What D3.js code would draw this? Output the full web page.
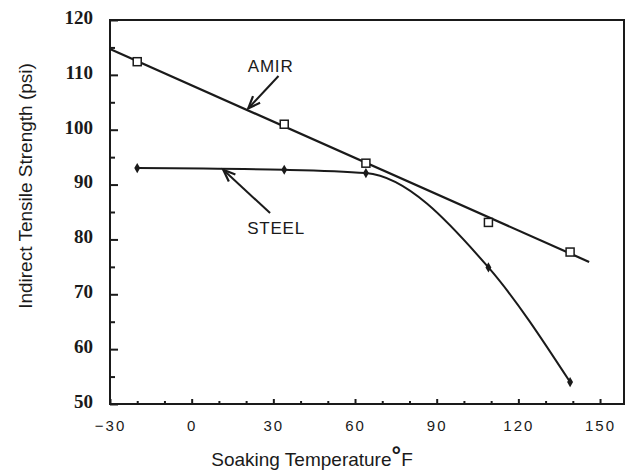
<!DOCTYPE html>
<html><head><meta charset="utf-8">
<script src="https://cdn.jsdelivr.net/npm/d3@7"></script>
<style>
html,body{margin:0;padding:0;background:#fff;}
svg{display:block;}
</style></head>
<body>
<svg id="chart" width="631" height="470"></svg>
<script>
// ---- data ----
const amirTemp = [-20, 34, 64, 109, 139];
const amirStrength = [112.4, 101.0, 93.9, 83.1, 77.7];
const amirFitTemp = [-30, 146];
const amirFitStrength = [114.7, 75.9];
const steelTemp = [-20, 34, 64, 109, 139];
const steelStrength = [93.0, 92.7, 92.1, 74.9, 54.0];
const xMajorTicks = [-30, 0, 30, 60, 90, 120, 150];
const xMinorTicks = [-20, -10, 10, 20, 40, 50, 70, 80, 100, 110, 130, 140];
const yMajorTicks = [50, 60, 70, 80, 90, 100, 110, 120];
const yMinorTicks = [55, 65, 75, 85, 95, 105, 115];
// annotation labels (data units) and arrows
const labelText = ["AMIR", "STEEL"];
const labelX = [29, 31];
const labelY = [110.5, 81.0];
const arrowFrom = [[31.9, 109.8], [28.8, 84.8]];
const arrowTo = [[20.8, 103.9], [11.6, 92.7]];

const svg = d3.select("#chart");
const L = 110, R = 624, T = 20, B = 404;
const x = d3.scaleLinear().domain([-30, 158.8]).range([L, R]);
const y = d3.scaleLinear().domain([50, 120]).range([B, T]);

const ink = "#1a1a1a";

// minor x ticks
svg.append("g").attr("transform", `translate(0,${B})`)
  .call(d3.axisBottom(x).tickValues(xMinorTicks).tickSize(-3).tickFormat(""))
  .call(g => { g.select(".domain").remove(); g.selectAll("line").attr("stroke", ink).attr("stroke-width", 2); });
// major x ticks
svg.append("g").attr("transform", `translate(0,${B})`)
  .call(d3.axisBottom(x).tickValues(xMajorTicks).tickSizeInner(-5).tickSizeOuter(0).tickPadding(16))
  .call(g => {
    g.select(".domain").remove();
    g.selectAll("line").attr("stroke", ink).attr("stroke-width", 2);
    g.selectAll("text").attr("font-family", "Liberation Sans, Arial, sans-serif")
      .attr("font-size", 15).attr("letter-spacing", "2px").attr("fill", ink);
  });
// minor y ticks
svg.append("g").attr("transform", `translate(${L},0)`)
  .call(d3.axisLeft(y).tickValues(yMinorTicks).tickSize(-5).tickFormat(""))
  .call(g => { g.select(".domain").remove(); g.selectAll("line").attr("stroke", ink).attr("stroke-width", 2); });
// major y ticks
svg.append("g").attr("transform", `translate(${L},0)`)
  .call(d3.axisLeft(y).tickValues(yMajorTicks).tickSizeInner(-8).tickSizeOuter(0).tickPadding(17))
  .call(g => {
    g.select(".domain").remove();
    g.selectAll("line").attr("stroke", ink).attr("stroke-width", 2);
    g.selectAll("text").attr("font-family", "Liberation Serif, Times New Roman, serif")
      .attr("font-weight", "bold").attr("font-size", 19).attr("dy", "0.18em").attr("fill", ink);
  });

// frame
svg.append("rect").attr("x", L).attr("y", T).attr("width", R - L).attr("height", B - T)
  .attr("fill", "none").attr("stroke", ink).attr("stroke-width", 2);

// AMIR fit line
const fit = amirFitTemp.map((t, i) => [t, amirFitStrength[i]]);
svg.append("path").attr("d", d3.line().x(d => x(d[0])).y(d => y(d[1]))(fit))
  .attr("fill", "none").attr("stroke", ink).attr("stroke-width", 2.2);

// STEEL curve
const steel = steelTemp.map((t, i) => [t, steelStrength[i]]);
svg.append("path").attr("d", d3.line().curve(d3.curveMonotoneX).x(d => x(d[0])).y(d => y(d[1]))(steel))
  .attr("fill", "none").attr("stroke", ink).attr("stroke-width", 2);

// AMIR squares
const amir = amirTemp.map((t, i) => [t, amirStrength[i]]);
svg.selectAll("rect.amir").data(amir).join("rect").attr("class", "amir")
  .attr("x", d => x(d[0]) - 4).attr("y", d => y(d[1]) - 4).attr("width", 8).attr("height", 8)
  .attr("fill", "#fff").attr("stroke", ink).attr("stroke-width", 1.5);

// STEEL diamonds
svg.selectAll("path.steel").data(steel).join("path").attr("class", "steel")
  .attr("d", d3.symbol(d3.symbolDiamond, 30)())
  .attr("transform", d => `translate(${x(d[0])},${y(d[1])})`)
  .attr("fill", ink);

// annotations
svg.selectAll("text.ann").data(labelText).join("text").attr("class", "ann")
  .attr("x", (d, i) => x(labelX[i])).attr("y", (d, i) => y(labelY[i]))
  .attr("text-anchor", "middle").attr("font-family", "Liberation Sans, Arial, sans-serif")
  .attr("font-size", 17).attr("letter-spacing", "0.8px").attr("fill", ink).text(d => d);

arrowFrom.forEach((f, i) => {
  const x1 = x(f[0]), y1 = y(f[1]), x2 = x(arrowTo[i][0]), y2 = y(arrowTo[i][1]);
  svg.append("line").attr("x1", x1).attr("y1", y1).attr("x2", x2).attr("y2", y2)
    .attr("stroke", ink).attr("stroke-width", 2);
  const a = Math.atan2(y2 - y1, x2 - x1), len = 13, sp = 0.38;
  const p1 = [x2 - len * Math.cos(a - sp), y2 - len * Math.sin(a - sp)];
  const p2 = [x2 - len * Math.cos(a + sp), y2 - len * Math.sin(a + sp)];
  svg.append("path").attr("d", `M${p1[0]},${p1[1]}L${x2},${y2}L${p2[0]},${p2[1]}`)
    .attr("fill", "none").attr("stroke", ink).attr("stroke-width", 2.2);
});

// axis titles
const xt = svg.append("text").attr("x", 312).attr("y", 466).attr("text-anchor", "middle")
  .attr("font-family", "Liberation Sans, Arial, sans-serif").attr("font-size", 19).attr("fill", ink);
xt.append("tspan").text("Soaking Temperature");
xt.append("tspan").attr("font-weight", "bold").attr("font-size", 24).attr("dy", "-3").text("°");
xt.append("tspan").attr("font-size", 19).attr("dy", "3").text("F");

svg.append("text").attr("transform", "translate(32,186) rotate(-90)").attr("text-anchor", "middle")
  .attr("font-family", "Liberation Sans, Arial, sans-serif").attr("font-size", 19).attr("fill", ink)
  .text("Indirect Tensile Strength (psi)");
</script>
</body></html>
